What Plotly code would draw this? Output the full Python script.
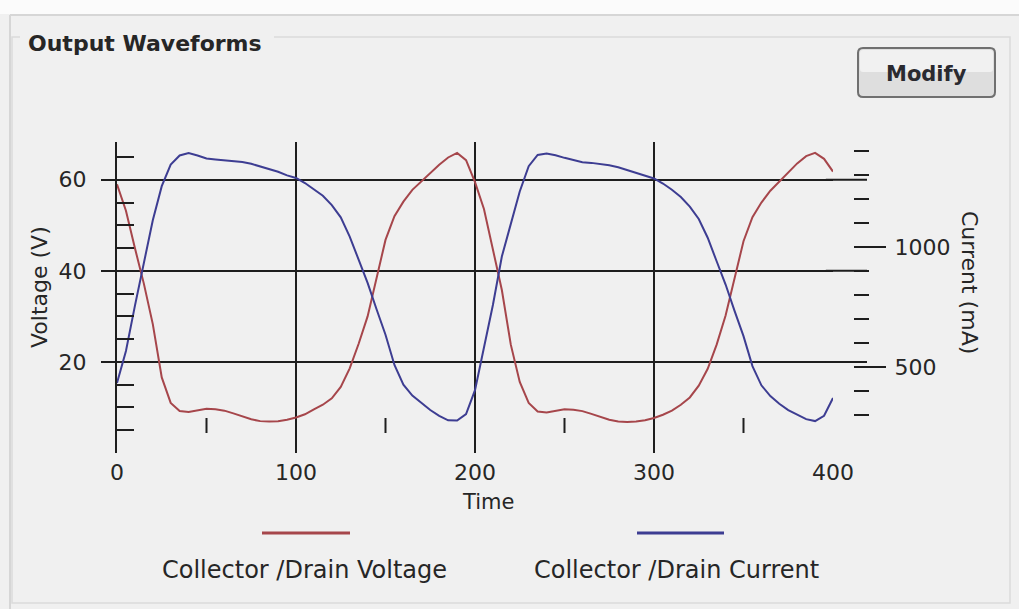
import plotly.graph_objects as go

# ---------------------------------------------------------------------------
# Waveform samples (one full run of two periods)
# ---------------------------------------------------------------------------
time = [0, 5, 10, 15, 20, 25, 30, 35, 40, 45, 50, 55, 60, 65, 70, 75, 80, 85, 90, 95,
        100, 105, 110, 115, 120, 125, 130, 135, 140, 145, 150, 155, 160, 165, 170, 175,
        180, 185, 190, 195, 200, 205, 210, 215, 220, 225, 230, 235, 240, 245, 250, 255,
        260, 265, 270, 275, 280, 285, 290, 295, 300, 305, 310, 315, 320, 325, 330, 335,
        340, 345, 350, 355, 360, 365, 370, 375, 380, 385, 390, 395, 400]

voltage_v = [59.0, 53.2, 45.0, 37.2, 28.3, 16.6, 11.0, 9.2, 9.0, 9.3, 9.7, 9.6, 9.3, 8.7,
             8.0, 7.4, 7.0, 6.9, 7.0, 7.3, 7.8, 8.5, 9.6, 10.6, 12.0, 14.5, 18.6, 24.0,
             30.0, 38.2, 46.8, 52.0, 55.2, 57.8, 59.7, 61.4, 63.3, 64.9, 65.9, 64.3,
             59.5, 53.6, 44.8, 35.8, 23.8, 15.6, 11.0, 9.1, 8.9, 9.2, 9.6, 9.5, 9.2, 8.6,
             7.9, 7.3, 6.9, 6.8, 6.9, 7.2, 7.7, 8.4, 9.3, 10.6, 12.2, 14.8, 18.5, 23.8,
             30.2, 38.5, 46.5, 51.8, 55.0, 57.6, 59.6, 61.4, 63.6, 65.2, 65.9, 64.6, 61.8]

current_ma = [435, 568, 756, 938, 1113, 1255, 1345, 1383, 1393, 1383, 1370, 1366, 1363,
              1362, 1356, 1348, 1337, 1325, 1315, 1300, 1289, 1268, 1243, 1215, 1176, 1125,
              1045, 946, 852, 742, 636, 510, 428, 382, 350, 322, 298, 279, 278, 305,
              405, 582, 760, 962, 1103, 1233, 1338, 1385, 1391, 1384, 1373, 1364, 1355,
              1352, 1348, 1342, 1334, 1322, 1310, 1298, 1287, 1266, 1240, 1210, 1170, 1118,
              1040, 942, 845, 735, 630, 505, 425, 380, 348, 322, 302, 284, 276, 298, 372]

time_ticks = [0, 100, 200, 300, 400]
time_mid_ticks = [50, 150, 250, 350]
voltage_ticks = [20, 40, 60]
voltage_minor = [5, 10, 15, 25, 30, 35, 45, 50, 55, 65]
current_ticks = [500, 1000]
current_minor = [300, 400, 600, 700, 800, 900, 1100, 1200, 1300, 1400]

series_names = ["Collector /Drain Voltage", "Collector /Drain Current"]

# ---------------------------------------------------------------------------
# Page geometry (pixels) and helpers for placing decorations
# ---------------------------------------------------------------------------
W, H = 1019, 609
ML, MR, MT, MB = 117, 151, 142, 156
PW, PH = W - ML - MR, H - MT - MB
PLOT_RIGHT = 833          # right edge of the time axis
INK = "#1e1e1e"
TEXT = "#262626"
RED = "#a6464b"
BLUE = "#3d3d92"
FONT = "DejaVu Sans"


def px(x):
    return (x - ML) / PW


def py(y):
    return (H - MB - y) / PH


fig = go.Figure()

fig.add_trace(go.Scatter(x=time, y=voltage_v, mode="lines", name=series_names[0],
                         line=dict(color=RED, width=2), xaxis="x", yaxis="y"))
fig.add_trace(go.Scatter(x=time, y=current_ma, mode="lines", name=series_names[1],
                         line=dict(color=BLUE, width=2), xaxis="x", yaxis="y2"))

xdom = [0, (PLOT_RIGHT - ML) / PW]

shapes = []
annotations = []

# window frame and group box
shapes.append(dict(type="rect", xref="paper", yref="paper", x0=px(0), x1=px(W), y0=py(0), y1=py(14),
                   fillcolor="#fbfbfb", line=dict(width=0), layer="below"))
shapes.append(dict(type="line", xref="paper", yref="paper", x0=px(10), x1=px(W), y0=py(15), y1=py(15),
                   line=dict(color="#d6d6d6", width=2), layer="below"))
shapes.append(dict(type="line", xref="paper", yref="paper", x0=px(10), x1=px(10), y0=py(15), y1=py(H),
                   line=dict(color="#d6d6d6", width=2), layer="below"))
shapes.append(dict(type="rect", xref="paper", yref="paper", x0=px(12), x1=px(1010), y0=py(37), y1=py(603),
                   line=dict(color="#dadada", width=1.5), layer="below"))
shapes.append(dict(type="rect", xref="paper", yref="paper", x0=px(20), x1=px(274), y0=py(30), y1=py(44),
                   fillcolor="#f0f0f0", line=dict(width=0), layer="below"))

# "Modify" button
bx0, bx1, by0, by1, r = 858, 995, 48, 97, 5


def rounded(x0, y0, x1, y1, rr):
    return (f"M {px(x0 + rr)} {py(y0)} L {px(x1 - rr)} {py(y0)} "
            f"Q {px(x1)} {py(y0)} {px(x1)} {py(y0 + rr)} L {px(x1)} {py(y1 - rr)} "
            f"Q {px(x1)} {py(y1)} {px(x1 - rr)} {py(y1)} L {px(x0 + rr)} {py(y1)} "
            f"Q {px(x0)} {py(y1)} {px(x0)} {py(y1 - rr)} L {px(x0)} {py(y0 + rr)} "
            f"Q {px(x0)} {py(y0)} {px(x0 + rr)} {py(y0)} Z")


shapes.append(dict(type="path", xref="paper", yref="paper", path=rounded(bx0, by0, bx1, by1, r),
                   fillcolor="#dedede", line=dict(width=0)))
shapes.append(dict(type="path", xref="paper", yref="paper", path=rounded(bx0 + 2, by0 + 2, bx1 - 2, 72, 3),
                   fillcolor="#f1f1f1", line=dict(width=0)))
shapes.append(dict(type="path", xref="paper", yref="paper", path=rounded(bx0, by0, bx1, by1, r),
                   fillcolor="rgba(0,0,0,0)", line=dict(color="#707070", width=2)))
annotations.append(dict(text="<b>Modify</b>", xref="paper", yref="paper", x=px(926), y=py(74),
                        showarrow=False, xanchor="center", yanchor="middle",
                        font=dict(family=FONT, size=21, color="#2a2a30")))

# group title
annotations.append(dict(text="<b>Output Waveforms</b>", xref="paper", yref="paper", x=px(26), y=py(43),
                        showarrow=False, xanchor="left", yanchor="middle",
                        font=dict(family=FONT, size=22, color=TEXT)))

# voltage grid lines continue past the time axis towards the current scale
for v in voltage_ticks:
    shapes.append(dict(type="line", xref="x domain", yref="y", x0=0.99, x1=(867 - ML) / (PLOT_RIGHT - ML),
                       y0=v, y1=v, line=dict(color=INK, width=2)))

# short time marks half way between the labelled times, floating above the baseline
for t in time_mid_ticks:
    shapes.append(dict(type="line", xref="x", yref="paper", x0=t, x1=t, y0=py(433), y1=py(418),
                       line=dict(color=INK, width=2)))

# axis titles
annotations.append(dict(text="Time", xref="paper", yref="paper", x=px(488), y=py(502),
                        showarrow=False, xanchor="center", yanchor="middle",
                        font=dict(family=FONT, size=21, color=TEXT)))
annotations.append(dict(text="Voltage (V)", xref="paper", yref="paper", x=px(39), y=py(287),
                        showarrow=False, xanchor="center", yanchor="middle", textangle=-90,
                        font=dict(family=FONT, size=22, color=TEXT)))
annotations.append(dict(text="Current (mA)", xref="paper", yref="paper", x=px(970), y=py(282),
                        showarrow=False, xanchor="center", yanchor="middle", textangle=90,
                        font=dict(family=FONT, size=22, color=TEXT)))

# legend: colour sample above each series name
legend_items = [(series_names[0], RED, 262, 350, 304), (series_names[1], BLUE, 637, 724, 676)]
for name, color, lx0, lx1, cx in legend_items:
    shapes.append(dict(type="line", xref="paper", yref="paper", x0=px(lx0), x1=px(lx1),
                       y0=py(533), y1=py(533), line=dict(color=color, width=3)))
    annotations.append(dict(text=name, xref="paper", yref="paper", x=px(cx), y=py(570),
                            showarrow=False, xanchor="center", yanchor="middle",
                            font=dict(family=FONT, size=24, color=TEXT)))

fig.update_layout(
    width=W, height=H,
    margin=dict(l=ML, r=MR, t=MT, b=MB, pad=0),
    paper_bgcolor="#f0f0f0",
    plot_bgcolor="rgba(0,0,0,0)",
    showlegend=False,
    font=dict(family=FONT, size=21, color=TEXT),
    xaxis=dict(domain=xdom, range=[0, 400], tickvals=time_ticks, ticks="",
               showgrid=True, gridcolor=INK, gridwidth=2, zeroline=False, showline=False,
               tickfont=dict(family=FONT, size=22, color=TEXT), ticklabelstandoff=4),
    yaxis=dict(range=[0, 68.3], tickvals=voltage_ticks, ticks="outside", ticklen=14, tickwidth=2,
               tickcolor=INK, showgrid=True, gridcolor=INK, gridwidth=2, zeroline=False,
               showline=True, linecolor=INK, linewidth=2, ticklabelstandoff=10,
               tickfont=dict(family=FONT, size=22, color=TEXT),
               minor=dict(tickvals=voltage_minor, ticks="inside", ticklen=17, tickwidth=2,
                          tickcolor=INK, showgrid=False)),
    yaxis2=dict(overlaying="y", side="right", anchor="free", position=(853 - ML) / PW,
                range=[143, 1439], tickvals=current_ticks, ticks="outside", ticklen=32,
                tickwidth=2, tickcolor=INK, showgrid=False, zeroline=False, showline=False,
                tickfont=dict(family=FONT, size=22, color=TEXT), ticklabelstandoff=4,
                minor=dict(tickvals=current_minor, ticks="outside", ticklen=15, tickwidth=2,
                           tickcolor=INK, showgrid=False)),
    shapes=shapes,
    annotations=annotations,
)

fig.write_html("out.html")
